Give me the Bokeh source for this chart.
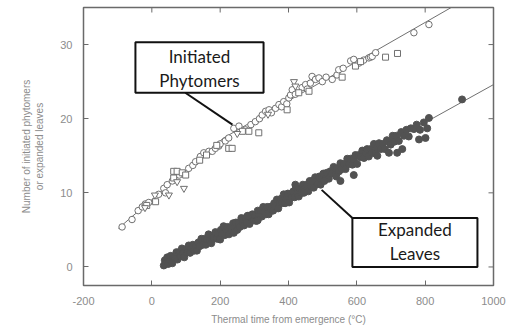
from bokeh.plotting import figure
from bokeh.models import FixedTicker, BoxAnnotation, Label, Range1d
from bokeh.embed import file_html
from bokeh.resources import INLINE

# ---------------- data ----------------
x_ticks = [-200, 0, 200, 400, 600, 800, 1000]
y_ticks = [0, 10, 20, 30]

# Initiated phytomers (open symbols)
circ_x = [-87, -58, -40, -28, -19, -9, 20, 35, 40, 45, 60, 80, 108, 120, 128, 142, 152, 167, 177, 186,
          196, 200, 215, 225, 240, 255, 274, 290, 303, 315, 323, 333, 343, 350, 362, 372, 380, 386, 395, 401,
          406, 411, 420, 440, 450, 455, 464, 469, 479, 489, 499, 510, 528, 542, 547, 560, 582, 591, 606, 620,
          635, 640, 645, 655, 767, 811]
circ_y = [5.4, 6.4, 7.6, 8.1, 8.5, 8.7, 9.8, 10.6, 10.0, 11.1, 11.6, 12.4, 13.3, 13.7, 14.2, 14.9, 15.4, 15.6, 15.6, 16.0,
          16.3, 16.6, 17.0, 17.4, 18.7, 19.0, 18.5, 19.2, 19.6, 20.0, 20.5, 21.0, 21.2, 20.8, 21.4, 21.9, 21.6, 22.3, 22.0, 22.8,
          23.2, 23.9, 23.3, 24.2, 24.6, 24.0, 24.8, 25.7, 25.3, 25.5, 25.0, 25.6, 25.3, 25.9, 26.6, 26.8, 27.8, 28.0, 27.5, 27.9,
          28.2, 28.3, 28.4, 28.9, 31.6, 32.7]
sq_x = [-15, 11, 64, 74, 89, 99, 64, 140, 160, 190, 225, 235, 265, 284, 313, 396, 430, 460, 557, 596, 611, 684, 719]
sq_y = [8.3, 8.8, 12.9, 12.9, 12.7, 12.4, 12.0, 14.4, 15.1, 16.4, 16.0, 16.0, 18.3, 18.3, 18.1, 21.2, 23.5, 23.7, 25.6,
        27.1, 27.7, 28.3, 28.8]
tri_x = [-20, 9, 50, 74, 94, 250, 340, 416, 420]
tri_y = [8.0, 9.7, 9.7, 11.5, 10.6, 18.0, 20.6, 25.0, 24.4]

# Expanded leaves (filled symbols)
leaves_x = [35, 38, 42, 45, 48, 52, 55, 60, 63, 68, 72, 75, 80, 84, 88, 92, 95, 100, 104, 108,
            112, 116, 120, 124, 128, 132, 136, 140, 145, 150,
            155, 158, 162, 166, 170, 174, 178, 182, 186, 190, 194, 198, 202, 206, 210, 214, 218, 222, 226, 230,
            234, 238, 242, 246, 250, 254, 258, 262, 266, 270, 274, 278, 282, 286, 290, 294, 298, 302, 306, 310,
            314, 318, 322, 326, 330, 334, 338, 342, 346, 350,
            200, 240, 280, 310,
            355, 358, 362, 366, 370, 374, 378, 382, 386, 390, 394, 398, 402, 406, 410, 414, 418, 422, 426, 430,
            434, 438, 442, 446, 450, 454, 458, 462, 466, 470, 474, 478, 482, 486, 490, 494, 498, 502, 508, 512,
            518, 522, 528, 532, 538, 542, 548,
            420, 445, 505, 540,
            552, 556, 562, 567, 572, 578, 582, 587, 591, 596, 601, 606, 611, 616, 621, 626, 630, 635, 640, 645,
            650, 655, 660, 665, 670, 676, 682, 688, 694, 699, 705, 710, 716, 723, 730, 738, 745, 752, 758, 767,
            775, 785, 796, 806, 811,
            591, 552, 718, 733, 782, 801, 694, 660, 908]
leaves_y = [0.2, 0.9, 0.5, 1.3, 0.4, 1.0, 1.5, 0.5, 1.4, 1.2, 2.0, 1.0, 2.0, 1.4, 2.5, 1.9, 1.3, 2.4, 2.0, 2.9,
            1.9, 2.6, 3.0, 2.2, 2.8, 2.2, 3.3, 2.8, 3.8, 3.0,
            3.8, 3.0, 3.7, 4.4, 3.5, 3.2, 4.2, 4.0, 4.7, 3.8, 4.5, 3.8, 5.0, 4.4, 5.5, 4.3, 5.0, 5.4, 4.4, 5.3,
            4.9, 5.9, 5.3, 6.0, 5.0, 6.0, 5.4, 6.6, 6.0, 5.6, 6.6, 6.0, 6.9, 5.8, 6.7, 7.1, 6.3, 6.9, 6.2, 7.6,
            6.9, 7.6, 6.8, 8.1, 7.4, 7.1, 8.1, 7.1, 8.1, 7.8,
            3.7, 4.6, 6.9, 6.3,
            7.6, 8.6, 8.2, 9.1, 7.9, 8.8, 9.2, 8.6, 9.8, 8.6, 9.2, 9.9, 8.7, 9.8, 9.4, 10.2, 9.4, 10.7, 9.9, 9.5,
            10.6, 10.0, 11.1, 10.5, 10.2, 11.1, 10.2, 11.6, 10.9, 11.6, 10.7, 12.1, 11.5, 11.2, 12.2, 11.1, 12.1, 12.6, 11.9, 12.7,
            11.9, 12.9, 12.6, 13.5, 12.5, 13.3, 12.9,
            11.1, 10.0, 11.6, 12.2,
            14.0, 13.2, 13.9, 13.2, 14.6, 13.9, 14.6, 13.8, 14.5, 15.1, 13.9, 15.1, 14.8, 15.7, 14.7, 15.4, 15.9, 14.9, 15.9, 15.4,
            16.6, 15.3, 16.1, 16.7, 15.9, 16.6, 15.9, 17.1, 16.9, 16.5, 17.7, 16.9, 17.7, 17.0, 18.2, 17.7, 18.5, 17.6, 18.7, 18.6,
            19.2, 18.5, 19.5, 18.7, 20.1,
            12.4, 11.6, 15.4, 15.9, 17.2, 17.4, 15.4, 15.0, 22.6]

# Fitted lines (vertices)
init_fit_x = [-98, 210, 880]
init_fit_y = [5.2, 17.4, 35.1]
leaves_fit_x = [30, 1000]
leaves_fit_y = [-0.2, 24.6]

# ---------------- figure ----------------
X0, X1, Y0, Y1 = -200, 1000, -2.5, 35
p = figure(width=517, height=330, output_backend="svg", toolbar_location=None,
           x_range=Range1d(X0, X1), y_range=Range1d(Y0, Y1),
           min_border_left=83, min_border_right=24, min_border_top=7, min_border_bottom=45)
p.background_fill_color = "white"
p.border_fill_color = "white"
p.grid.visible = False
p.outline_line_color = "#6a6a6a"
p.outline_line_width = 1.5

tick_col = "#6a6a6a"
lab_col = "#8c8c8c"

for ax, ticks in ((p.xaxis[0], x_ticks), (p.yaxis[0], y_ticks)):
    ax.ticker = FixedTicker(ticks=ticks)
    ax.major_tick_in = 5
    ax.major_tick_out = 0
    ax.minor_tick_in = 0
    ax.minor_tick_out = 0
    ax.axis_line_color = None
    ax.major_tick_line_color = tick_col
    ax.major_label_text_color = lab_col
    ax.major_label_text_font = "Liberation Sans"
    ax.major_label_text_font_size = "11px"
    ax.major_label_standoff = 11
    ax.axis_label_text_color = lab_col
    ax.axis_label_text_font = "Liberation Sans"
    ax.axis_label_text_font_size = "10px"
    ax.axis_label_text_font_style = "normal"

p.xaxis[0].major_label_overrides = {-200: "-200"}
p.xaxis.axis_label = "Thermal time from emergence (\u00b0C)"
p.yaxis.axis_label = "Number of initiated phytomers\nor expanded leaves"
p.xaxis[0].axis_label_standoff = 6
p.yaxis[0].axis_label_standoff = 12

# mirrored inward ticks on the top and right edges of the frame
tick_len_y = 5 * (Y1 - Y0) / 278.0
tick_len_x = 5 * (X1 - X0) / 410.0
p.segment(x0=x_ticks, y0=[Y1] * len(x_ticks), x1=x_ticks, y1=[Y1 - tick_len_y] * len(x_ticks),
          line_color=tick_col, line_width=1)
p.segment(x0=[X1] * len(y_ticks), y0=y_ticks, x1=[X1 - tick_len_x] * len(y_ticks), y1=y_ticks,
          line_color=tick_col, line_width=1)

# fitted lines
p.line(init_fit_x, init_fit_y, line_color="#707070", line_width=1)
p.line(leaves_fit_x, leaves_fit_y, line_color="#707070", line_width=1)

# data
p.scatter(leaves_x, leaves_y, marker="circle", size=7, fill_color="#525252", line_color="#525252", line_width=1)
p.scatter(circ_x, circ_y, marker="circle", size=6.5, fill_color="white", line_color="#707070", line_width=1)
p.scatter(sq_x, sq_y, marker="square", size=6, fill_color="white", line_color="#707070", line_width=1)
p.scatter(tri_x, tri_y, marker="inverted_triangle", size=7, fill_color="white", line_color="#707070", line_width=1)

# annotation boxes with leader lines
p.line([98, 236], [23.5, 19.2], line_color="#111111", line_width=2)
p.line([587, 497], [6.6, 10.4], line_color="#111111", line_width=2)

for l, r, b, t in ((-48, 327, 23.5, 30.3), (587, 953, 0.0, 6.6)):
    p.add_layout(BoxAnnotation(left=l, right=r, bottom=b, top=t, fill_color="white", fill_alpha=1,
                               line_color="#111111", line_alpha=1, line_width=2))

def add_text(x, y, t):
    p.add_layout(Label(x=x, y=y, text=t, text_align="center", text_baseline="middle",
                       text_font="Lato", text_font_size="17px", text_color="#1a1a1a"))

add_text(139.5, 28.4, "Initiated")
add_text(139.5, 25.2, "Phytomers")
add_text(770, 5.0, "Expanded")
add_text(770, 1.8, "Leaves")

open("out.html", "w").write(file_html(p, INLINE))
